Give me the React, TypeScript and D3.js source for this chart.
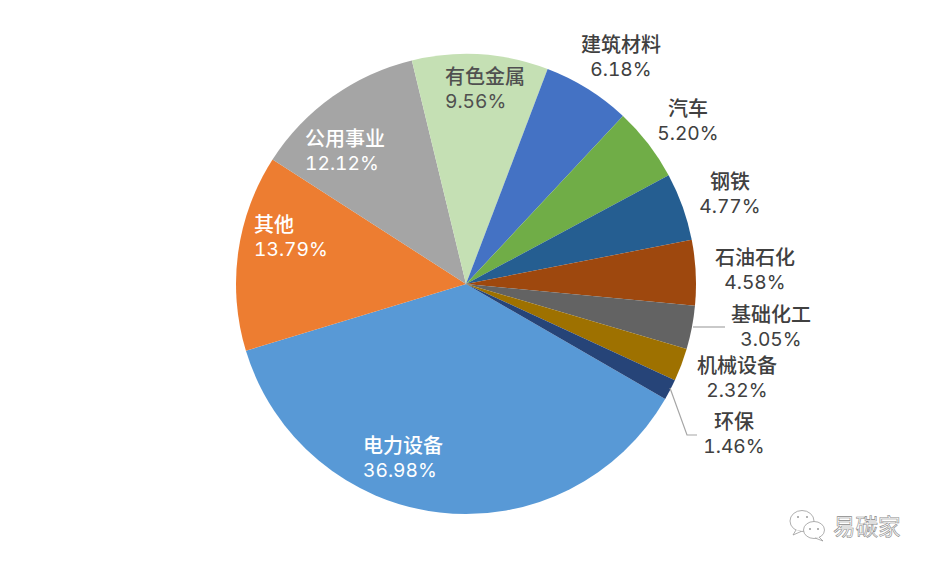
import * as d3 from 'd3';

const categories = ['电力设备', '其他', '公用事业', '有色金属', '建筑材料', '汽车', '钢铁', '石油石化', '基础化工', '机械设备', '环保'];
const shares = [36.98, 13.79, 12.12, 9.56, 6.18, 5.20, 4.77, 4.58, 3.05, 2.32, 1.46];
const colors = ['#5899d6', '#ed7d31', '#a5a5a5', '#c5e0b4', '#4472c4', '#70ad47', '#255e91', '#9e480e', '#636363', '#9e7100', '#264478'];
const labelColors = ['#fff', '#fff', '#fff', '#505050', '#404040', '#404040', '#404040', '#404040', '#404040', '#404040', '#404040'];
// the four labels inside the pie are left aligned, the rest are centred
const insideLabels = ['电力设备', '其他', '公用事业', '有色金属'];
const labelAnchors: [number, number][] = [[363, 458], [254, 237], [305, 151], [445, 89], [621, 57], [688, 121], [730, 194], [755, 270], [771, 327], [737, 378], [734, 434]];

const cx = 466;
const cy = 284;
const radius = 230;
const start = (120 * Math.PI) / 180;
const font = 'Inter, "Noto Sans CJK SC", sans-serif';

export default function App() {
  const pie = d3.pie<number>().sort(null).startAngle(start).endAngle(start + Math.PI * 2);
  const arcs = pie(shares);
  const arc = d3.arc<d3.PieArcDatum<number>>().innerRadius(0).outerRadius(radius);

  return (
    <svg width={932} height={568} style={{ position: 'absolute', left: 0, top: 0, background: '#fff' }} fontFamily={font}>
      <g transform={`translate(${cx},${cy})`}>
        {arcs.map((d, i) => (
          <path key={categories[i]} d={arc(d)!} fill={colors[i]} />
        ))}
      </g>
      {/* leader lines */}
      <path d="M670 388 L687 435 L697 435" fill="none" stroke="#a6a6a6" strokeWidth={1.2} />
      <path d="M693 327 L725 327" fill="none" stroke="#a6a6a6" strokeWidth={1.2} />
      {categories.map((c, i) => {
        const [x, y] = labelAnchors[i];
        return (
          <text key={c} textAnchor={insideLabels.includes(c) ? 'start' : 'middle'} fill={labelColors[i]} fontSize={20}>
            <tspan x={x} y={y - 5} fontWeight={500}>{c}</tspan>
            <tspan x={x} y={y + 19} fontSize={19.2} style={{ fontVariantNumeric: 'tabular-nums' }}>{shares[i].toFixed(2)}%</tspan>
          </text>
        );
      })}
      {/* watermark */}
      <g fill="#fff" stroke="#9a9a9a" strokeWidth={0.8}>
        <ellipse cx={802} cy={521} rx={12} ry={10.5} />
        <path d="M796 530 L793 535 L801 531.5" />
        <ellipse cx={814} cy={530} rx={10.5} ry={8.5} />
        <path d="M819 537 L823 541 L815 538" />
      </g>
      <g fill="#9a9a9a">
        <circle cx={798} cy={517} r={1} />
        <circle cx={807} cy={517} r={1} />
        <circle cx={810} cy={529} r={1} />
        <circle cx={818} cy={529} r={1} />
      </g>
      <text x={833} y={535} fontSize={22.5} fill="#fff" stroke="#8a8a8a" strokeWidth={0.6}>易碳家</text>
    </svg>
  );
}
